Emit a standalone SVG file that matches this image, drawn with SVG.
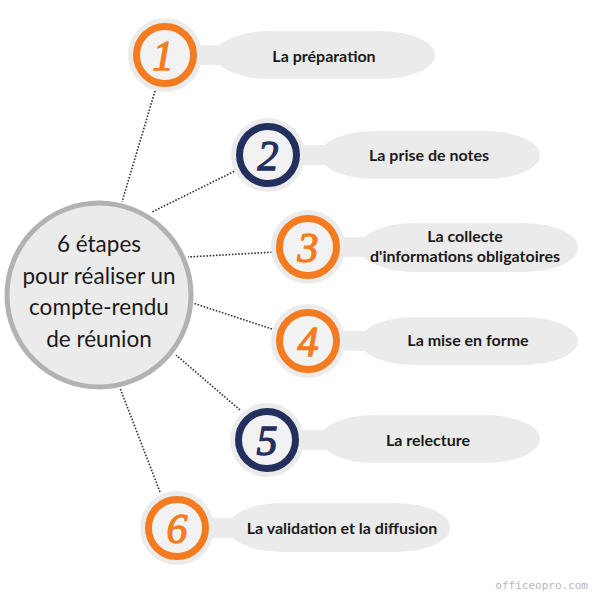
<svg xmlns="http://www.w3.org/2000/svg" width="600" height="600" viewBox="0 0 600 600">
<style>
.conn{stroke:#333;stroke-width:1.6;stroke-dasharray:1.6 1.6;fill:none}
.bg{fill:#ecebec}
.inner{fill:#f3f2f3;stroke-width:7}
.or{stroke:#f47b20}
.nv{stroke:#23305e}
.dig{font-family:"Liberation Serif",serif;font-style:italic;font-size:42px;text-anchor:middle;stroke-width:1.3}
.dor{fill:#f47b20;stroke:#f47b20}
.dnv{fill:#23305e;stroke:#23305e}
.lbl{font-family:Lato,"Open Sans",sans-serif;font-weight:bold;font-size:16px;fill:#1a1a1a;text-anchor:middle}
.main{font-family:Lato,"Open Sans",sans-serif;font-size:22.5px;fill:#1a1a1a;text-anchor:middle}
</style>
<rect width="600" height="600" fill="#ffffff"/>
<g id="connectors">
<line class="conn" x1="155" y1="91" x2="122" y2="202"/>
<line class="conn" x1="237" y1="170" x2="152" y2="212"/>
<line class="conn" x1="275" y1="252" x2="188" y2="257"/>
<line class="conn" x1="275" y1="330" x2="190" y2="302"/>
<line class="conn" x1="240" y1="410" x2="176" y2="355"/>
<line class="conn" x1="160" y1="492" x2="120" y2="388"/>
</g>
<g id="center">
<circle cx="99" cy="295" r="92" fill="#ecebec" stroke="#b3b2b3" stroke-width="5"/>
<text class="main" x="99" y="252">6 étapes</text>
<text class="main" x="99" y="284">pour réaliser un</text>
<text class="main" x="99" y="315">compte-rendu</text>
<text class="main" x="99" y="347">de réunion</text>
</g>
<g id="step1">
<rect class="bg" x="190" y="45" width="40" height="20"/>
<rect class="bg" x="215" y="31" width="220" height="48" rx="55" ry="24"/>
<circle class="bg" cx="165" cy="55" r="37"/>
<circle class="inner or" cx="165" cy="55" r="28.5"/>
<text class="dig dor" x="163" y="70">1</text>
<text class="lbl" x="324" y="62">La préparation</text>
</g>
<g id="step2">
<rect class="bg" x="293" y="145" width="40" height="20"/>
<rect class="bg" x="320" y="131" width="220" height="48" rx="55" ry="24"/>
<circle class="bg" cx="268" cy="155" r="37"/>
<circle class="inner nv" cx="268" cy="155" r="28.5"/>
<text class="dig dnv" x="268" y="170">2</text>
<text class="lbl" x="429" y="161">La prise de notes</text>
</g>
<g id="step3">
<rect class="bg" x="333" y="237" width="40" height="20"/>
<rect class="bg" x="360" y="223" width="218" height="49" rx="55" ry="24"/>
<circle class="bg" cx="308" cy="247" r="37"/>
<circle class="inner or" cx="308" cy="247" r="28.5"/>
<text class="dig dor" x="308" y="262">3</text>
<text class="lbl" x="465" y="242">La collecte</text>
<text class="lbl" x="465" y="262">d'informations obligatoires</text>
</g>
<g id="step4">
<rect class="bg" x="333" y="331" width="40" height="20"/>
<rect class="bg" x="360" y="317" width="218" height="48" rx="55" ry="24"/>
<circle class="bg" cx="308" cy="341" r="37"/>
<circle class="inner or" cx="308" cy="341" r="28.5"/>
<text class="dig dor" x="308" y="356">4</text>
<text class="lbl" x="468" y="346">La mise en forme</text>
</g>
<g id="step5">
<rect class="bg" x="292" y="430" width="40" height="20"/>
<rect class="bg" x="320" y="415" width="220" height="48" rx="55" ry="24"/>
<circle class="bg" cx="267" cy="440" r="37"/>
<circle class="inner nv" cx="267" cy="440" r="28.5"/>
<text class="dig dnv" x="267" y="455">5</text>
<text class="lbl" x="428" y="446">La relecture</text>
</g>
<g id="step6">
<rect class="bg" x="202" y="518" width="40" height="20"/>
<rect class="bg" x="228" y="503" width="222" height="49" rx="55" ry="24"/>
<circle class="bg" cx="177" cy="528" r="37"/>
<circle class="inner or" cx="177" cy="528" r="28.5"/>
<text class="dig dor" x="177" y="543">6</text>
<text class="lbl" x="342" y="534">La validation et la diffusion</text>
</g>
<text x="588" y="589" font-family="'DejaVu Sans Mono',monospace" font-size="11" fill="#b8b8b8" text-anchor="end">officeopro.com</text>
</svg>
